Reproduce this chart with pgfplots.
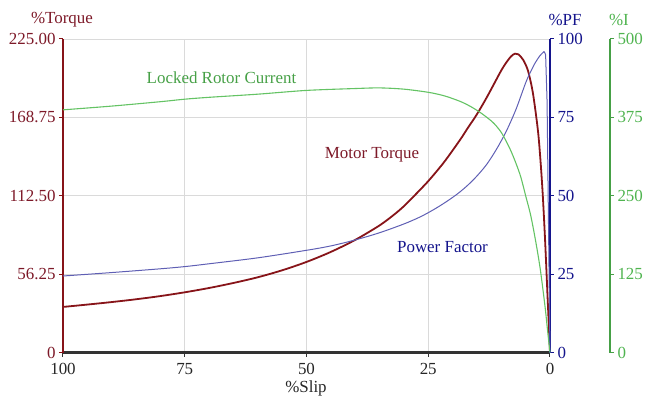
\documentclass[border=0pt]{standalone}
\usepackage{pgfplots}
\pgfplotsset{compat=1.18}
\usepackage{fontspec}
\setmainfont{Liberation Serif}
\definecolor{tq}{RGB}{125,25,40}
\definecolor{tqline}{RGB}{135,20,25}
\definecolor{pfax}{RGB}{20,20,140}
\definecolor{pfline}{RGB}{95,95,180}
\definecolor{igreen}{RGB}{70,160,70}
\definecolor{ilabel}{RGB}{80,180,80}
\definecolor{iline}{RGB}{100,195,100}
\definecolor{gridc}{RGB}{218,218,218}
\newcommand{\fs}{\fontsize{17}{19}\selectfont}
\pgfplotsset{
  base/.style={
    scale only axis, width=487bp, height=313.5bp,
    xmin=0, xmax=100, x dir=reverse,
    at={(0,0)}, anchor=south west,
    /pgf/number format/assume math mode=true,
    tick label style={font=\fs},
    tick align=outside, major tick length=4bp,
    clip=false,
  }
}
\begin{document}
\begin{tikzpicture}
% Torque axis
\begin{axis}[base,
  axis y line*=left, axis x line*=bottom,
  ymin=0, ymax=225,
  ytick={0,56.25,112.5,168.75,225},
  yticklabels={0,56.25,112.50,168.75,225.00},
  xtick={0,25,50,75,100},
  grid=major, grid style={gridc, line width=0.8bp},
  y axis line style={tqline, line width=2.4bp, -},
  x axis line style={black!80, line width=2.4bp, -},
  every y tick/.append style={tqline, line width=1bp},
  every x tick/.append style={black!80, line width=1bp},
  y tick label style={text=tq},
  x tick label style={text=black!85, yshift=-3bp},
]
\addplot[tqline, line width=1.8bp, smooth, tension=0.5, line join=round] coordinates {
(100,32.7) (95,34.4) (90,36.2) (85,38.2) (80,40.5) (75,43.2) (70,46.3) (65,49.9)
(60,54) (55,59) (50,65) (45,72.2) (40,80.8) (35,91.2) (32,99) (30,105) (28,112)
(25,123) (22,135.5) (20,145) (18,155) (17,160.5) (15,171) (13,183) (11,196) (10,202.5) (9,208)
(8,212.5) (7.2,214.5) (6.5,214) (5.5,210) (4.5,202) (3.5,186) (2.5,160) (2,140)
(1.5,114) (1,80) (0.5,40) (0,0)
};
\end{axis}
% PF axis
\begin{axis}[base,
  axis y line*=right, axis x line=none,
  ymin=0, ymax=100,
  ytick={0,25,50,75,100},
  y axis line style={pfax, line width=2.6bp, -},
  every y tick/.append style={pfax, line width=1bp},
  y tick label style={text=pfax},
]
\addplot[pfline, line width=1bp, smooth, tension=0.5] coordinates {
(100,24.4) (90,25.5) (80,26.7) (75,27.4) (70,28.3) (60,30.2) (50,32.6) (45,34)
(40,35.9) (35,38.2) (30,41) (27,43) (25,44.6) (23,46.4) (21,48.4) (19,50.6)
(17,53.2) (15,56.3) (13,60) (11,64.8) (9,70.5) (7,77.5) (5,86) (4,89.5) (3,92.5)
(2,94.8) (1.2,96)
};
\addplot[pfline, line width=1bp] coordinates {(1.2,96) (0.9,95) (0.6,80) (0.3,40) (0,0)};
\end{axis}
% Current axis
\begin{axis}[base,
  axis y line*=right, axis x line=none,
  ymin=0, ymax=500,
  ytick={0,125,250,375,500},
  y axis line style={igreen, line width=1.4bp, -},
  every outer y axis line/.append style={xshift=60bp},
  every y tick label/.append style={xshift=60bp},
  every y tick/.append style={xshift=60bp, igreen, line width=1bp},
  y tick label style={text=ilabel},
]
\addplot[iline, line width=1.1bp, smooth, tension=0.5] coordinates {
(100,387) (90,393) (80,400) (75,404) (70,407) (60,412) (50,418) (40,421) (35,422)
(30,420) (25,415) (22,410) (20,405) (18,399) (16,391) (14,381) (12,369) (11,361)
(10,351) (9,337) (8,321) (7,302) (6,280) (5,250) (4,220) (3,180) (2,133) (1,72)
(0.5,35) (0,0)
};
\end{axis}
\node[font=\fs, text=tq] at (-1bp,333bp) {\%Torque};
\node[font=\fs, text=pfax] at (502bp,333bp) {\%PF};
\node[font=\fs, text=ilabel] at (556bp,333bp) {\%I};
\node[font=\fs, text=igreen] at (158.5bp,274.5bp) {Locked Rotor Current};
\node[font=\fs, text=tq] at (309bp,197.5bp) {Motor Torque};
\node[font=\fs, text=pfax] at (379.5bp,105.5bp) {Power Factor};
\node[font=\fs, text=black!85] at (243bp,-36bp) {\%Slip};
\pgfresetboundingbox
\path[use as bounding box] (-63bp,-47.5bp) rectangle (583bp,352.5bp);
\end{tikzpicture}
\end{document}
